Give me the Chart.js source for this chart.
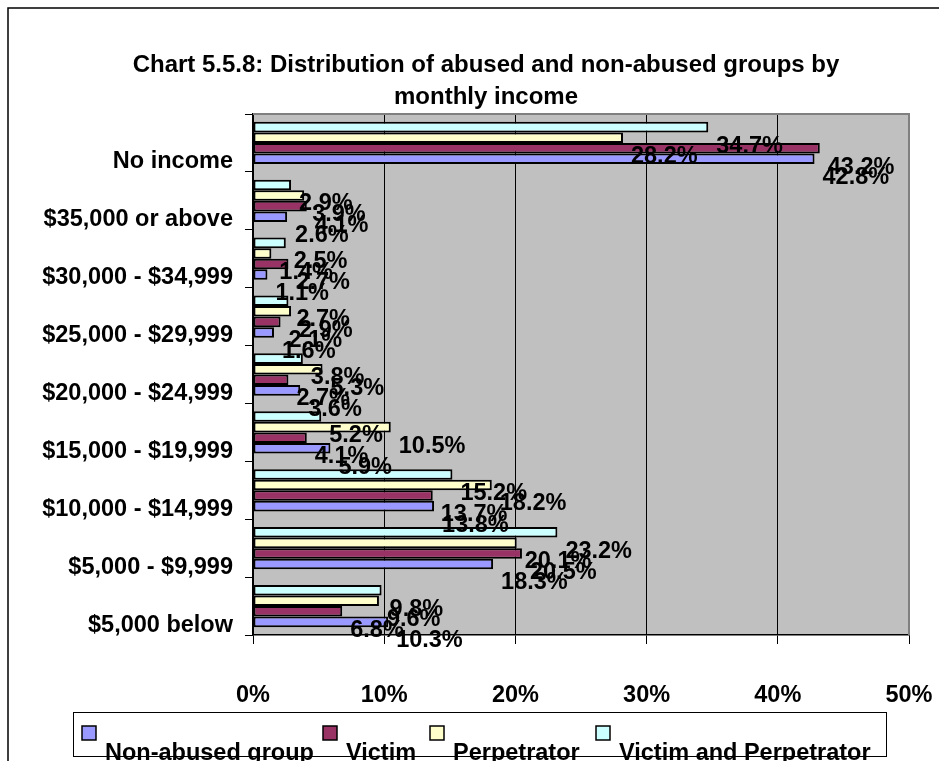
<!DOCTYPE html>
<html>
<head>
<meta charset="utf-8">
<title>Chart 5.5.8</title>
<script src="https://cdn.jsdelivr.net/npm/chart.js@4.4.1/dist/chart.umd.min.js"></script>
<style>
  html, body { margin: 0; padding: 0; background: #fff; }
  canvas { display: block; }
</style>
</head>
<body>
<canvas id="chart" width="939" height="761"></canvas>
<script>
// categories as they read from top to bottom
const categories = [
    'No income',
    '$35,000 or above',
    '$30,000 - $34,999',
    '$25,000 - $29,999',
    '$20,000 - $24,999',
    '$15,000 - $19,999',
    '$10,000 - $14,999',
    '$5,000 - $9,999',
    '$5,000 below'
];

// percentages, same order as categories
const nonAbused     = [42.8, 2.6, 1.1, 1.6, 3.6, 5.9, 13.8, 18.3, 10.3];
const victim        = [43.2, 4.1, 2.7, 2.1, 2.7, 4.1, 13.7, 20.5, 6.8];
const perpetrator   = [28.2, 3.9, 1.4, 2.9, 5.3, 10.5, 18.2, 20.1, 9.6];
const victimAndPerp = [34.7, 2.9, 2.5, 2.7, 3.8, 5.2, 15.2, 23.2, 9.8];

const seriesNames  = ['Non-abused group', 'Victim', 'Perpetrator', 'Victim and Perpetrator'];
const seriesColors = ['#9999FF', '#993366', '#FFFFCC', '#CCFFFF'];
const seriesData   = [nonAbused, victim, perpetrator, victimAndPerp];

const xTickValues = [0, 10, 20, 30, 40, 50];
const titleLines = [
    'Chart 5.5.8: Distribution of abused and non-abused groups by',
    'monthly income'
];

const FONT_FAMILY = "'Liberation Sans', Arial, sans-serif";
const BIG = 23.5;
const fontStr = 'bold ' + BIG + 'px ' + FONT_FAMILY;
const titleFont = 'bold 24px ' + FONT_FAMILY;

// legend square x positions (layout only)
const legendX = [82, 323, 430, 596];

// Excel draws the first series at the bottom of each group,
// chart.js puts dataset 0 at the top, so feed them reversed
const datasets = seriesNames.map((name, i) => ({
    label: name,
    data: seriesData[i],
    backgroundColor: seriesColors[i],
    borderColor: '#000',
    borderWidth: 2,
    borderSkipped: false,
    categoryPercentage: 0.73,
    barPercentage: 1.0
})).reverse();

const excelLook = {
    id: 'excelLook',
    beforeDraw(chart) {
        const { ctx, chartArea: a } = chart;
        ctx.save();
        ctx.fillStyle = '#fff';
        ctx.fillRect(0, 0, chart.width, chart.height);
        ctx.fillStyle = '#C0C0C0';
        ctx.fillRect(a.left, a.top, a.right - a.left, a.bottom - a.top);

        // outer frame, runs off the right and bottom
        ctx.strokeStyle = '#000';
        ctx.lineWidth = 1.5;
        ctx.strokeRect(8, 8, chart.width + 20, chart.height + 20);

        ctx.fillStyle = '#000';
        ctx.font = titleFont;
        ctx.textAlign = 'center';
        ctx.textBaseline = 'middle';
        titleLines.forEach((t, i) => ctx.fillText(t, 486, 65 + i * 32));
        ctx.restore();
    },
    beforeDatasetsDraw(chart) {
        const { ctx, chartArea: a } = chart;
        ctx.save();
        ctx.strokeStyle = '#808080';
        ctx.lineWidth = 2;
        ctx.beginPath();
        ctx.moveTo(a.left, a.top);
        ctx.lineTo(a.right, a.top);
        ctx.lineTo(a.right, a.bottom);
        ctx.stroke();
        ctx.restore();
    },
    afterDatasetsDraw(chart) {
        const ctx = chart.ctx;
        ctx.save();
        ctx.fillStyle = '#000';
        ctx.font = fontStr;
        ctx.textAlign = 'left';
        ctx.textBaseline = 'middle';
        chart.data.datasets.forEach((ds, di) => {
            const meta = chart.getDatasetMeta(di);
            meta.data.forEach((bar, i) => {
                ctx.fillText(ds.data[i].toFixed(1) + '%', bar.x + 8, bar.y + 19);
            });
        });
        ctx.restore();
    },
    afterDraw(chart) {
        const ctx = chart.ctx;
        ctx.save();
        ctx.strokeStyle = '#000';
        ctx.lineWidth = 1;
        ctx.strokeRect(73.5, 712.5, 813, 44);

        ctx.font = fontStr;
        ctx.textAlign = 'left';
        ctx.textBaseline = 'alphabetic';
        seriesNames.forEach((name, i) => {
            const x = legendX[i];
            ctx.fillStyle = seriesColors[i];
            ctx.fillRect(x, 726, 14, 14);
            ctx.lineWidth = 1.5;
            ctx.strokeRect(x, 726, 14, 14);
            ctx.fillStyle = '#000';
            ctx.fillText(name, x + 23, 760);
        });
        ctx.restore();
    }
};

new Chart(document.getElementById('chart'), {
    type: 'bar',
    data: { labels: categories, datasets: datasets },
    options: {
        indexAxis: 'y',
        responsive: false,
        animation: false,
        devicePixelRatio: 1,
        layout: { padding: { top: 114, right: 30, left: 0, bottom: 0 } },
        plugins: {
            legend: { display: false },
            title: { display: false },
            tooltip: { enabled: false }
        },
        scales: {
            x: {
                min: 0,
                max: 50,
                afterBuildTicks: (scale) => {
                    scale.ticks = xTickValues.map(v => ({ value: v }));
                },
                afterFit: (scale) => {
                    scale.height = 126;
                    scale.paddingLeft = 0;
                    scale.paddingRight = 0;
                },
                grid: {
                    color: '#000',
                    lineWidth: 1,
                    tickLength: 9,
                    tickColor: '#000'
                },
                border: { color: '#000', width: 1.5 },
                ticks: {
                    color: '#000',
                    font: { family: FONT_FAMILY, size: BIG, weight: 'bold' },
                    padding: 37,
                    maxRotation: 0,
                    callback: (v) => v + '%'
                }
            },
            y: {
                afterFit: (scale) => {
                    scale.width = 253;
                    scale.paddingTop = 0;
                    scale.paddingBottom = 0;
                },
                grid: {
                    display: true,
                    drawOnChartArea: false,
                    offset: true,
                    tickLength: 8,
                    tickColor: '#000',
                    color: '#000'
                },
                border: { color: '#000', width: 1.5 },
                ticks: {
                    color: '#000',
                    font: { family: FONT_FAMILY, size: BIG, weight: 'bold' },
                    padding: 12,
                    labelOffset: 19,
                    autoSkip: false
                }
            }
        }
    },
    plugins: [excelLook]
});
</script>
</body>
</html>
